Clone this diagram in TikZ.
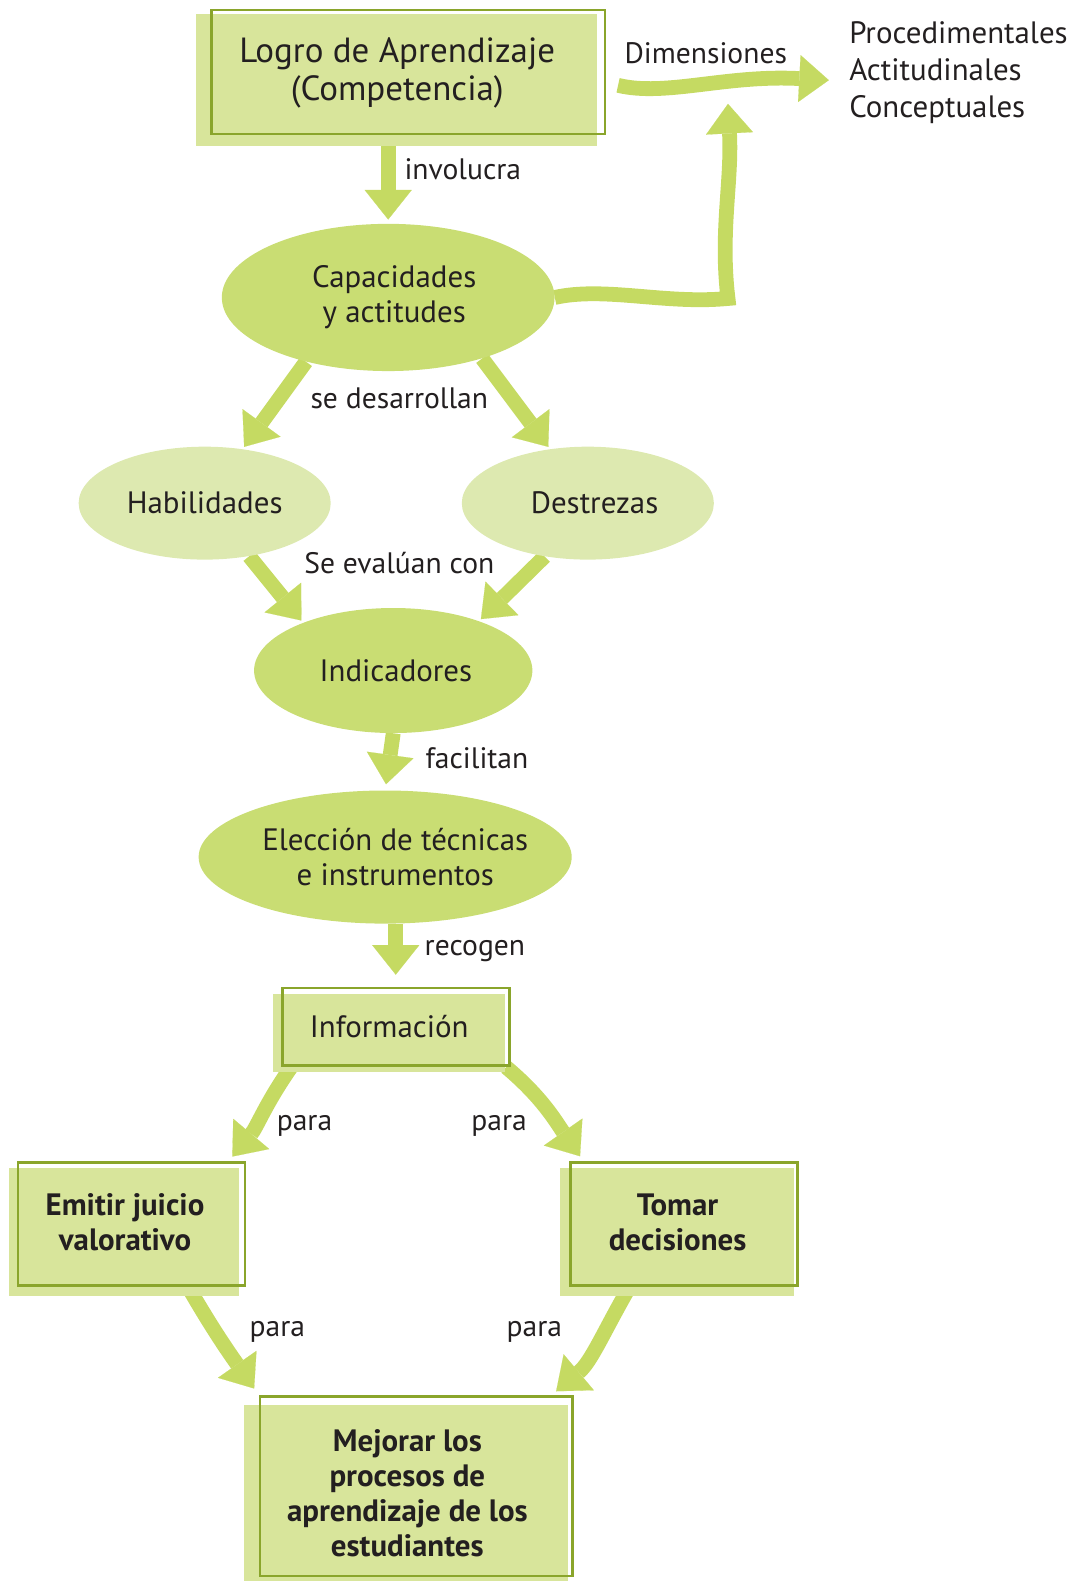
\documentclass[tikz,border=0pt]{standalone}
\usepackage{fontspec}
\setmainfont{PT Sans}
\usetikzlibrary{shapes.geometric,arrows.meta,calc,backgrounds}
\definecolor{arrc}{RGB}{197,218,98}
\definecolor{boxfill}{RGB}{216,229,155}
\definecolor{bordc}{RGB}{138,165,43}
\definecolor{ellA}{RGB}{201,221,115}
\definecolor{ellB}{RGB}{221,233,176}
\definecolor{txt}{RGB}{35,31,32}
\begin{document}
\begin{tikzpicture}[x=0.75pt,y=0.75pt,
  every node/.style={text=txt},
  bord/.style={draw=bordc, line width=2pt, inner sep=0pt},
  ttl/.style={align=center, inner sep=0pt, font=\fontsize{26pt}{28pt}\selectfont},
  boxtxt/.style={align=center, inner sep=0pt, font=\bfseries\fontsize{23pt}{26pt}\selectfont},
  plaintxt/.style={align=center, inner sep=0pt, font=\fontsize{23pt}{26pt}\selectfont},
  ellbig/.style={ellipse, fill=ellA, inner sep=0pt, align=center, font=\fontsize{23pt}{26pt}\selectfont},
  ellsm/.style={ellipse, fill=ellB, inner sep=0pt, align=center, font=\fontsize{23pt}{26pt}\selectfont},
  lab/.style={inner sep=0pt, font=\fontsize{22pt}{26pt}\selectfont},
  bigarr/.style={draw=arrc, line width=11pt, line join=miter,
    -{Triangle[length=22pt,width=35pt,line width=0.1pt]}},
]
\useasboundingbox (0,0) rectangle (1074,-1568);

% boxes (borders) and their texts
\node[bord, minimum width=292.5pt, minimum height=92.25pt] (top) at (405,-71.5) {};
\node[ttl] (topt) at (394,-72.5) {Logro de Aprendizaje\\(Competencia)};

\node[bord, minimum width=168.75pt, minimum height=57.75pt] (info) at (392.5,-1018.5) {};
\node[plaintxt] (infot) at (386,-1018) {Información};

\node[bord, minimum width=168.75pt, minimum height=91.5pt] (emi) at (130.5,-1214) {};
\node[boxtxt] (emit) at (124,-1212.5) {Emitir juicio\\valorativo};

\node[bord, minimum width=168.75pt, minimum height=91.5pt] (tom) at (678.5,-1214) {};
\node[boxtxt] (tomt) at (672,-1212.5) {Tomar\\decisiones};

\node[bord, minimum width=232.5pt, minimum height=133.5pt] (mej) at (413,-1474) {};
\node[boxtxt] (mejt) at (404,-1480.5) {Mejorar los\\procesos de\\aprendizaje de los\\estudiantes};

% ellipses
\node[ellbig, minimum width=247.5pt, minimum height=109.5pt] (cap) at (385,-295)
  {\makebox[0pt]{\hspace*{9pt}Capacidades}\\\makebox[0pt]{\hspace*{9pt}y actitudes}};
\node[ellsm, minimum width=187.5pt, minimum height=84pt] (hab) at (203,-499)
  {\makebox[0pt]{Habilidades}};
\node[ellsm, minimum width=187.5pt, minimum height=84pt] (des) at (583,-499)
  {\makebox[0pt]{\hspace*{10pt}Destrezas}};
\node[ellbig, minimum width=207pt, minimum height=93pt] (ind) at (390,-665)
  {\makebox[0pt]{\hspace*{4pt}Indicadores}};
\node[ellbig, minimum width=277.5pt, minimum height=99pt] (ele) at (382,-850)
  {\makebox[0pt]{\hspace*{15pt}Elección de técnicas}\\\makebox[0pt]{\hspace*{15pt}e instrumentos}};

% right list
\node[anchor=west, align=left, inner sep=6pt, font=\fontsize{23pt}{27.5pt}\selectfont] (list) at (834,-72)
  {Procedimentales\\Actitudinales\\Conceptuales};
\coordinate (dimtip) at (722,-103);

% connector labels
\node[lab] (l1) at (459,-168) {involucra};
\node[lab] (l2) at (700,-53) {Dimensiones};
\node[lab] (l3) at (396,-395) {se desarrollan};
\node[lab] (l4) at (396,-558) {Se evalúan con};
\node[lab] (l5) at (473,-752) {facilitan};
\node[lab] (l6) at (471,-943) {recogen};
\node[lab] (l7) at (302,-1117) {para};
\node[lab] (l8) at (495,-1117) {para};
\node[lab] (l9) at (275,-1321) {para};
\node[lab] (l10) at (530,-1321) {para};

\begin{scope}[on background layer]
  % connectors
  \draw[bigarr, shorten >=3pt] (top.south -| cap.north) -- (cap.north);
  \draw[bigarr, shorten <=9pt, shorten >=9pt] (top.-3) .. controls (660,-96) and (720,-74) .. (list.184);
  \draw[bigarr] (cap.east) .. controls (600,-284) and (660,-302) .. (722,-296)
        .. controls (714,-230) and (726,-180) .. (dimtip);
  \draw[bigarr, shorten >=2pt] (cap.218) -- (hab.55);
  \draw[bigarr, shorten >=2pt] (cap.327) -- (des.125);
  \draw[bigarr, shorten >=2pt] (hab.310) -- (ind.152);
  \draw[bigarr, shorten >=2pt] (des.231) -- (ind.30);
  \draw[bigarr, shorten >=4.5pt] (ind.south) -- (ele.north);
  \draw[bigarr, shorten >=9pt] (info.north |- ele.south) -- (info.north);
  \draw[bigarr, shorten >=4.5pt] (info.201) to[out=235,in=50] (emi.33);
  \draw[bigarr, shorten >=4.5pt] (info.340) to[out=-40,in=125] (tom.148);
  \draw[bigarr, shorten >=6pt] (emi.312) to[out=-60,in=125] (mej.north west);
  \draw[bigarr, shorten >=4.5pt] (tom.229) to[out=240,in=40] (mej.34);
  % offset fills of the boxes
  \fill[boxfill] ($(top.north west)+(-14,-5)$) rectangle ($(top.south east)+(-9,-10)$);
  \fill[boxfill] ($(info.north west)+(-8,-7)$) rectangle ($(info.south east)+(-5,-5)$);
  \fill[boxfill] ($(emi.north west)+(-8,-7)$) rectangle ($(emi.south east)+(-7,-9)$);
  \fill[boxfill] ($(tom.north west)+(-9,-7)$) rectangle ($(tom.south east)+(-5,-9)$);
  \fill[boxfill] ($(mej.north west)+(-15,-10)$) rectangle ($(mej.south east)+(-6,-5)$);
\end{scope}
\end{tikzpicture}
\end{document}
